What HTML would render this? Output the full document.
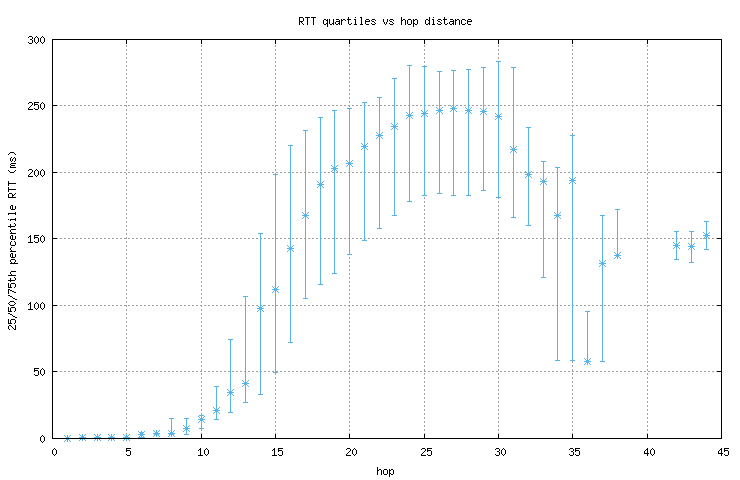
<!DOCTYPE html>
<html><head><meta charset="utf-8"><style>
html,body{margin:0;padding:0;background:#fff;width:740px;height:480px;overflow:hidden}
svg{display:block}
</style></head><body>
<svg width="740" height="480" viewBox="0 0 740 480" shape-rendering="crispEdges">
<defs><path id="st" fill="#56b4e9" d="M-3 -3h1v1h-1zM-2 -2h1v1h-1zM-1 -1h1v1h-1zM1 1h1v1h-1zM2 2h1v1h-1zM0 0h1v1h-1zM-3 3h1v1h-1zM-2 2h1v1h-1zM-1 1h1v1h-1zM1 -1h1v1h-1zM2 -2h1v1h-1zM3 -3h1v1h-1zM3 3h1v1h-1z"/></defs>
<rect width="740" height="480" fill="#fff"/>
<path d="M52 371.5H722 M52 305.5H722 M52 238.5H722 M52 172.5H722 M52 105.5H722 M126.5 439V39 M201.5 439V39 M275.5 439V39 M349.5 439V39 M424.5 439V39 M498.5 439V39 M572.5 439V39 M647.5 439V39" stroke="#a0a0a0" stroke-width="1" stroke-dasharray="2 2" fill="none"/>
<path d="M52 438.5h5M722 438.5h-5 M52 371.5h5M722 371.5h-5 M52 305.5h5M722 305.5h-5 M52 238.5h5M722 238.5h-5 M52 172.5h5M722 172.5h-5 M52 105.5h5M722 105.5h-5 M52 39.5h5M722 39.5h-5 M52.5 439v-5M52.5 39v5 M126.5 439v-5M126.5 39v5 M201.5 439v-5M201.5 39v5 M275.5 439v-5M275.5 39v5 M349.5 439v-5M349.5 39v5 M424.5 439v-5M424.5 39v5 M498.5 439v-5M498.5 39v5 M572.5 439v-5M572.5 39v5 M647.5 439v-5M647.5 39v5 M721.5 439v-5M721.5 39v5" stroke="#000" stroke-width="1" fill="none"/>
<use href="#st" x="67" y="438"/>
<use href="#st" x="82" y="437"/>
<use href="#st" x="97" y="437"/>
<use href="#st" x="111" y="437"/>
<use href="#st" x="126" y="437"/>
<use href="#st" x="141" y="434"/>
<use href="#st" x="156" y="433"/>
<use href="#st" x="171" y="433"/>
<use href="#st" x="186" y="428"/>
<use href="#st" x="201" y="419"/>
<use href="#st" x="216" y="410"/>
<use href="#st" x="230" y="392"/>
<use href="#st" x="245" y="383"/>
<use href="#st" x="260" y="308"/>
<use href="#st" x="275" y="289"/>
<use href="#st" x="290" y="248"/>
<use href="#st" x="305" y="215"/>
<use href="#st" x="320" y="184"/>
<use href="#st" x="334" y="168"/>
<use href="#st" x="349" y="163"/>
<use href="#st" x="364" y="146"/>
<use href="#st" x="379" y="135"/>
<use href="#st" x="394" y="126"/>
<use href="#st" x="409" y="115"/>
<use href="#st" x="424" y="113"/>
<use href="#st" x="439" y="110"/>
<use href="#st" x="453" y="108"/>
<use href="#st" x="468" y="110"/>
<use href="#st" x="483" y="111"/>
<use href="#st" x="498" y="116"/>
<use href="#st" x="513" y="149"/>
<use href="#st" x="528" y="174"/>
<use href="#st" x="543" y="181"/>
<use href="#st" x="557" y="215"/>
<use href="#st" x="572" y="180"/>
<use href="#st" x="587" y="361"/>
<use href="#st" x="602" y="263"/>
<use href="#st" x="617" y="255"/>
<use href="#st" x="676" y="245"/>
<use href="#st" x="691" y="246"/>
<use href="#st" x="706" y="235"/>
<path d="M67.5 438V439 M65 438.5h5M65 438.5h5 M64 438.5h7M67.5 435v7 M82.5 437V438 M80 437.5h5M80 437.5h5 M79 437.5h7M82.5 434v7 M97.5 437V438 M95 437.5h5M95 437.5h5 M94 437.5h7M97.5 434v7 M111.5 437V438 M109 437.5h5M109 437.5h5 M108 437.5h7M111.5 434v7 M126.5 437V438 M124 437.5h5M124 437.5h5 M123 437.5h7M126.5 434v7 M141.5 432V438 M139 432.5h5M139 437.5h5 M138 434.5h7M141.5 431v7 M156.5 433V435 M154 433.5h5M154 434.5h5 M153 433.5h7M156.5 430v7 M171.5 418V435 M169 418.5h5M169 434.5h5 M168 433.5h7M171.5 430v7 M186.5 418V435 M184 418.5h5M184 434.5h5 M183 428.5h7M186.5 425v7 M201.5 415V429 M199 415.5h5M199 428.5h5 M198 419.5h7M201.5 416v7 M216.5 386V420 M214 386.5h5M214 419.5h5 M213 410.5h7M216.5 407v7 M230.5 339V413 M228 339.5h5M228 412.5h5 M227 392.5h7M230.5 389v7 M245.5 296V403 M243 296.5h5M243 402.5h5 M242 383.5h7M245.5 380v7 M260.5 233V395 M258 233.5h5M258 394.5h5 M257 308.5h7M260.5 305v7 M275.5 174V373 M273 174.5h5M273 372.5h5 M272 289.5h7M275.5 286v7 M290.5 145V343 M288 145.5h5M288 342.5h5 M287 248.5h7M290.5 245v7 M305.5 130V299 M303 130.5h5M303 298.5h5 M302 215.5h7M305.5 212v7 M320.5 117V285 M318 117.5h5M318 284.5h5 M317 184.5h7M320.5 181v7 M334.5 110V274 M332 110.5h5M332 273.5h5 M331 168.5h7M334.5 165v7 M349.5 108V255 M347 108.5h5M347 254.5h5 M346 163.5h7M349.5 160v7 M364.5 102V241 M362 102.5h5M362 240.5h5 M361 146.5h7M364.5 143v7 M379.5 97V229 M377 97.5h5M377 228.5h5 M376 135.5h7M379.5 132v7 M394.5 78V216 M392 78.5h5M392 215.5h5 M391 126.5h7M394.5 123v7 M409.5 65V202 M407 65.5h5M407 201.5h5 M406 115.5h7M409.5 112v7 M424.5 66V196 M422 66.5h5M422 195.5h5 M421 113.5h7M424.5 110v7 M439.5 71V194 M437 71.5h5M437 193.5h5 M436 110.5h7M439.5 107v7 M453.5 70V196 M451 70.5h5M451 195.5h5 M450 108.5h7M453.5 105v7 M468.5 69V196 M466 69.5h5M466 195.5h5 M465 110.5h7M468.5 107v7 M483.5 67V191 M481 67.5h5M481 190.5h5 M480 111.5h7M483.5 108v7 M498.5 61V198 M496 61.5h5M496 197.5h5 M495 116.5h7M498.5 113v7 M513.5 67V218 M511 67.5h5M511 217.5h5 M510 149.5h7M513.5 146v7 M528.5 127V226 M526 127.5h5M526 225.5h5 M525 174.5h7M528.5 171v7 M543.5 161V278 M541 161.5h5M541 277.5h5 M540 181.5h7M543.5 178v7 M557.5 167V361 M555 167.5h5M555 360.5h5 M554 215.5h7M557.5 212v7 M572.5 135V361 M570 135.5h5M570 360.5h5 M569 180.5h7M572.5 177v7 M587.5 311V362 M585 311.5h5M585 361.5h5 M584 361.5h7M587.5 358v7 M602.5 215V362 M600 215.5h5M600 361.5h5 M599 263.5h7M602.5 260v7 M617.5 209V256 M615 209.5h5M615 255.5h5 M614 255.5h7M617.5 252v7 M676.5 231V260 M674 231.5h5M674 259.5h5 M673 245.5h7M676.5 242v7 M691.5 231V263 M689 231.5h5M689 262.5h5 M688 246.5h7M691.5 243v7 M706.5 221V250 M704 221.5h5M704 249.5h5 M703 235.5h7M706.5 232v7" stroke="#56b4e9" stroke-width="1" fill="none"/>
<path d="M52.5 39.5H721.5V438.5H52.5Z" stroke="#000" stroke-width="1" fill="none"/>
<path fill="#000" d="M42 435h1v1h-1zM41 436h1v1h-1zM43 436h1v1h-1zM40 437h1v1h-1zM44 437h1v1h-1zM40 438h1v1h-1zM44 438h1v1h-1zM40 439h1v1h-1zM44 439h1v1h-1zM40 440h1v1h-1zM44 440h1v1h-1zM41 441h1v1h-1zM43 441h1v1h-1zM42 442h1v1h-1zM34 368h5v1h-5zM34 369h1v1h-1zM34 370h4v1h-4zM34 371h1v1h-1zM38 371h1v1h-1zM38 372h1v1h-1zM38 373h1v1h-1zM34 374h1v1h-1zM38 374h1v1h-1zM35 375h3v1h-3zM42 368h1v1h-1zM41 369h1v1h-1zM43 369h1v1h-1zM40 370h1v1h-1zM44 370h1v1h-1zM40 371h1v1h-1zM44 371h1v1h-1zM40 372h1v1h-1zM44 372h1v1h-1zM40 373h1v1h-1zM44 373h1v1h-1zM41 374h1v1h-1zM43 374h1v1h-1zM42 375h1v1h-1zM30 302h1v1h-1zM29 303h2v1h-2zM28 304h1v1h-1zM30 304h1v1h-1zM30 305h1v1h-1zM30 306h1v1h-1zM30 307h1v1h-1zM30 308h1v1h-1zM28 309h5v1h-5zM36 302h1v1h-1zM35 303h1v1h-1zM37 303h1v1h-1zM34 304h1v1h-1zM38 304h1v1h-1zM34 305h1v1h-1zM38 305h1v1h-1zM34 306h1v1h-1zM38 306h1v1h-1zM34 307h1v1h-1zM38 307h1v1h-1zM35 308h1v1h-1zM37 308h1v1h-1zM36 309h1v1h-1zM42 302h1v1h-1zM41 303h1v1h-1zM43 303h1v1h-1zM40 304h1v1h-1zM44 304h1v1h-1zM40 305h1v1h-1zM44 305h1v1h-1zM40 306h1v1h-1zM44 306h1v1h-1zM40 307h1v1h-1zM44 307h1v1h-1zM41 308h1v1h-1zM43 308h1v1h-1zM42 309h1v1h-1zM30 235h1v1h-1zM29 236h2v1h-2zM28 237h1v1h-1zM30 237h1v1h-1zM30 238h1v1h-1zM30 239h1v1h-1zM30 240h1v1h-1zM30 241h1v1h-1zM28 242h5v1h-5zM34 235h5v1h-5zM34 236h1v1h-1zM34 237h4v1h-4zM34 238h1v1h-1zM38 238h1v1h-1zM38 239h1v1h-1zM38 240h1v1h-1zM34 241h1v1h-1zM38 241h1v1h-1zM35 242h3v1h-3zM42 235h1v1h-1zM41 236h1v1h-1zM43 236h1v1h-1zM40 237h1v1h-1zM44 237h1v1h-1zM40 238h1v1h-1zM44 238h1v1h-1zM40 239h1v1h-1zM44 239h1v1h-1zM40 240h1v1h-1zM44 240h1v1h-1zM41 241h1v1h-1zM43 241h1v1h-1zM42 242h1v1h-1zM29 169h3v1h-3zM28 170h1v1h-1zM32 170h1v1h-1zM32 171h1v1h-1zM31 172h1v1h-1zM30 173h1v1h-1zM29 174h1v1h-1zM28 175h1v1h-1zM28 176h5v1h-5zM36 169h1v1h-1zM35 170h1v1h-1zM37 170h1v1h-1zM34 171h1v1h-1zM38 171h1v1h-1zM34 172h1v1h-1zM38 172h1v1h-1zM34 173h1v1h-1zM38 173h1v1h-1zM34 174h1v1h-1zM38 174h1v1h-1zM35 175h1v1h-1zM37 175h1v1h-1zM36 176h1v1h-1zM42 169h1v1h-1zM41 170h1v1h-1zM43 170h1v1h-1zM40 171h1v1h-1zM44 171h1v1h-1zM40 172h1v1h-1zM44 172h1v1h-1zM40 173h1v1h-1zM44 173h1v1h-1zM40 174h1v1h-1zM44 174h1v1h-1zM41 175h1v1h-1zM43 175h1v1h-1zM42 176h1v1h-1zM29 102h3v1h-3zM28 103h1v1h-1zM32 103h1v1h-1zM32 104h1v1h-1zM31 105h1v1h-1zM30 106h1v1h-1zM29 107h1v1h-1zM28 108h1v1h-1zM28 109h5v1h-5zM34 102h5v1h-5zM34 103h1v1h-1zM34 104h4v1h-4zM34 105h1v1h-1zM38 105h1v1h-1zM38 106h1v1h-1zM38 107h1v1h-1zM34 108h1v1h-1zM38 108h1v1h-1zM35 109h3v1h-3zM42 102h1v1h-1zM41 103h1v1h-1zM43 103h1v1h-1zM40 104h1v1h-1zM44 104h1v1h-1zM40 105h1v1h-1zM44 105h1v1h-1zM40 106h1v1h-1zM44 106h1v1h-1zM40 107h1v1h-1zM44 107h1v1h-1zM41 108h1v1h-1zM43 108h1v1h-1zM42 109h1v1h-1zM29 36h3v1h-3zM28 37h1v1h-1zM32 37h1v1h-1zM32 38h1v1h-1zM30 39h2v1h-2zM32 40h1v1h-1zM32 41h1v1h-1zM28 42h1v1h-1zM32 42h1v1h-1zM29 43h3v1h-3zM36 36h1v1h-1zM35 37h1v1h-1zM37 37h1v1h-1zM34 38h1v1h-1zM38 38h1v1h-1zM34 39h1v1h-1zM38 39h1v1h-1zM34 40h1v1h-1zM38 40h1v1h-1zM34 41h1v1h-1zM38 41h1v1h-1zM35 42h1v1h-1zM37 42h1v1h-1zM36 43h1v1h-1zM42 36h1v1h-1zM41 37h1v1h-1zM43 37h1v1h-1zM40 38h1v1h-1zM44 38h1v1h-1zM40 39h1v1h-1zM44 39h1v1h-1zM40 40h1v1h-1zM44 40h1v1h-1zM40 41h1v1h-1zM44 41h1v1h-1zM41 42h1v1h-1zM43 42h1v1h-1zM42 43h1v1h-1zM54 448h1v1h-1zM53 449h1v1h-1zM55 449h1v1h-1zM52 450h1v1h-1zM56 450h1v1h-1zM52 451h1v1h-1zM56 451h1v1h-1zM52 452h1v1h-1zM56 452h1v1h-1zM52 453h1v1h-1zM56 453h1v1h-1zM53 454h1v1h-1zM55 454h1v1h-1zM54 455h1v1h-1zM126 448h5v1h-5zM126 449h1v1h-1zM126 450h4v1h-4zM126 451h1v1h-1zM130 451h1v1h-1zM130 452h1v1h-1zM130 453h1v1h-1zM126 454h1v1h-1zM130 454h1v1h-1zM127 455h3v1h-3zM200 448h1v1h-1zM199 449h2v1h-2zM198 450h1v1h-1zM200 450h1v1h-1zM200 451h1v1h-1zM200 452h1v1h-1zM200 453h1v1h-1zM200 454h1v1h-1zM198 455h5v1h-5zM206 448h1v1h-1zM205 449h1v1h-1zM207 449h1v1h-1zM204 450h1v1h-1zM208 450h1v1h-1zM204 451h1v1h-1zM208 451h1v1h-1zM204 452h1v1h-1zM208 452h1v1h-1zM204 453h1v1h-1zM208 453h1v1h-1zM205 454h1v1h-1zM207 454h1v1h-1zM206 455h1v1h-1zM274 448h1v1h-1zM273 449h2v1h-2zM272 450h1v1h-1zM274 450h1v1h-1zM274 451h1v1h-1zM274 452h1v1h-1zM274 453h1v1h-1zM274 454h1v1h-1zM272 455h5v1h-5zM278 448h5v1h-5zM278 449h1v1h-1zM278 450h4v1h-4zM278 451h1v1h-1zM282 451h1v1h-1zM282 452h1v1h-1zM282 453h1v1h-1zM278 454h1v1h-1zM282 454h1v1h-1zM279 455h3v1h-3zM347 448h3v1h-3zM346 449h1v1h-1zM350 449h1v1h-1zM350 450h1v1h-1zM349 451h1v1h-1zM348 452h1v1h-1zM347 453h1v1h-1zM346 454h1v1h-1zM346 455h5v1h-5zM354 448h1v1h-1zM353 449h1v1h-1zM355 449h1v1h-1zM352 450h1v1h-1zM356 450h1v1h-1zM352 451h1v1h-1zM356 451h1v1h-1zM352 452h1v1h-1zM356 452h1v1h-1zM352 453h1v1h-1zM356 453h1v1h-1zM353 454h1v1h-1zM355 454h1v1h-1zM354 455h1v1h-1zM422 448h3v1h-3zM421 449h1v1h-1zM425 449h1v1h-1zM425 450h1v1h-1zM424 451h1v1h-1zM423 452h1v1h-1zM422 453h1v1h-1zM421 454h1v1h-1zM421 455h5v1h-5zM427 448h5v1h-5zM427 449h1v1h-1zM427 450h4v1h-4zM427 451h1v1h-1zM431 451h1v1h-1zM431 452h1v1h-1zM431 453h1v1h-1zM427 454h1v1h-1zM431 454h1v1h-1zM428 455h3v1h-3zM496 448h3v1h-3zM495 449h1v1h-1zM499 449h1v1h-1zM499 450h1v1h-1zM497 451h2v1h-2zM499 452h1v1h-1zM499 453h1v1h-1zM495 454h1v1h-1zM499 454h1v1h-1zM496 455h3v1h-3zM503 448h1v1h-1zM502 449h1v1h-1zM504 449h1v1h-1zM501 450h1v1h-1zM505 450h1v1h-1zM501 451h1v1h-1zM505 451h1v1h-1zM501 452h1v1h-1zM505 452h1v1h-1zM501 453h1v1h-1zM505 453h1v1h-1zM502 454h1v1h-1zM504 454h1v1h-1zM503 455h1v1h-1zM570 448h3v1h-3zM569 449h1v1h-1zM573 449h1v1h-1zM573 450h1v1h-1zM571 451h2v1h-2zM573 452h1v1h-1zM573 453h1v1h-1zM569 454h1v1h-1zM573 454h1v1h-1zM570 455h3v1h-3zM575 448h5v1h-5zM575 449h1v1h-1zM575 450h4v1h-4zM575 451h1v1h-1zM579 451h1v1h-1zM579 452h1v1h-1zM579 453h1v1h-1zM575 454h1v1h-1zM579 454h1v1h-1zM576 455h3v1h-3zM647 448h1v1h-1zM646 449h2v1h-2zM645 450h1v1h-1zM647 450h1v1h-1zM644 451h1v1h-1zM647 451h1v1h-1zM644 452h1v1h-1zM647 452h1v1h-1zM644 453h5v1h-5zM647 454h1v1h-1zM647 455h1v1h-1zM652 448h1v1h-1zM651 449h1v1h-1zM653 449h1v1h-1zM650 450h1v1h-1zM654 450h1v1h-1zM650 451h1v1h-1zM654 451h1v1h-1zM650 452h1v1h-1zM654 452h1v1h-1zM650 453h1v1h-1zM654 453h1v1h-1zM651 454h1v1h-1zM653 454h1v1h-1zM652 455h1v1h-1zM721 448h1v1h-1zM720 449h2v1h-2zM719 450h1v1h-1zM721 450h1v1h-1zM718 451h1v1h-1zM721 451h1v1h-1zM718 452h1v1h-1zM721 452h1v1h-1zM718 453h5v1h-5zM721 454h1v1h-1zM721 455h1v1h-1zM724 448h5v1h-5zM724 449h1v1h-1zM724 450h4v1h-4zM724 451h1v1h-1zM728 451h1v1h-1zM728 452h1v1h-1zM728 453h1v1h-1zM724 454h1v1h-1zM728 454h1v1h-1zM725 455h3v1h-3zM299 17h4v1h-4zM299 18h1v1h-1zM303 18h1v1h-1zM299 19h1v1h-1zM303 19h1v1h-1zM299 20h1v1h-1zM303 20h1v1h-1zM299 21h4v1h-4zM299 22h1v1h-1zM301 22h1v1h-1zM299 23h1v1h-1zM302 23h1v1h-1zM299 24h1v1h-1zM303 24h1v1h-1zM305 17h5v1h-5zM307 18h1v1h-1zM307 19h1v1h-1zM307 20h1v1h-1zM307 21h1v1h-1zM307 22h1v1h-1zM307 23h1v1h-1zM307 24h1v1h-1zM311 17h5v1h-5zM313 18h1v1h-1zM313 19h1v1h-1zM313 20h1v1h-1zM313 21h1v1h-1zM313 22h1v1h-1zM313 23h1v1h-1zM313 24h1v1h-1zM324 19h2v1h-2zM327 19h1v1h-1zM323 20h1v1h-1zM326 20h2v1h-2zM323 21h1v1h-1zM327 21h1v1h-1zM323 22h1v1h-1zM327 22h1v1h-1zM323 23h1v1h-1zM326 23h2v1h-2zM324 24h2v1h-2zM327 24h1v1h-1zM327 25h1v1h-1zM327 26h1v1h-1zM329 19h1v1h-1zM333 19h1v1h-1zM329 20h1v1h-1zM333 20h1v1h-1zM329 21h1v1h-1zM333 21h1v1h-1zM329 22h1v1h-1zM333 22h1v1h-1zM329 23h1v1h-1zM332 23h2v1h-2zM330 24h2v1h-2zM333 24h1v1h-1zM336 19h3v1h-3zM339 20h1v1h-1zM336 21h4v1h-4zM335 22h1v1h-1zM339 22h1v1h-1zM335 23h1v1h-1zM338 23h2v1h-2zM336 24h2v1h-2zM339 24h1v1h-1zM341 19h1v1h-1zM343 19h2v1h-2zM341 20h2v1h-2zM345 20h1v1h-1zM341 21h1v1h-1zM341 22h1v1h-1zM341 23h1v1h-1zM341 24h1v1h-1zM348 17h1v1h-1zM348 18h1v1h-1zM347 19h4v1h-4zM348 20h1v1h-1zM348 21h1v1h-1zM348 22h1v1h-1zM348 23h1v1h-1zM351 23h1v1h-1zM349 24h2v1h-2zM355 17h1v1h-1zM354 19h2v1h-2zM355 20h1v1h-1zM355 21h1v1h-1zM355 22h1v1h-1zM355 23h1v1h-1zM354 24h3v1h-3zM360 17h2v1h-2zM361 18h1v1h-1zM361 19h1v1h-1zM361 20h1v1h-1zM361 21h1v1h-1zM361 22h1v1h-1zM361 23h1v1h-1zM360 24h3v1h-3zM366 19h3v1h-3zM365 20h1v1h-1zM369 20h1v1h-1zM365 21h5v1h-5zM365 22h1v1h-1zM365 23h1v1h-1zM366 24h3v1h-3zM372 19h3v1h-3zM371 20h1v1h-1zM375 20h1v1h-1zM372 21h2v1h-2zM374 22h1v1h-1zM371 23h1v1h-1zM375 23h1v1h-1zM372 24h3v1h-3zM383 19h1v1h-1zM387 19h1v1h-1zM383 20h1v1h-1zM387 20h1v1h-1zM383 21h1v1h-1zM387 21h1v1h-1zM384 22h1v1h-1zM386 22h1v1h-1zM384 23h1v1h-1zM386 23h1v1h-1zM385 24h1v1h-1zM390 19h3v1h-3zM389 20h1v1h-1zM393 20h1v1h-1zM390 21h2v1h-2zM392 22h1v1h-1zM389 23h1v1h-1zM393 23h1v1h-1zM390 24h3v1h-3zM401 17h1v1h-1zM401 18h1v1h-1zM401 19h1v1h-1zM403 19h2v1h-2zM401 20h2v1h-2zM405 20h1v1h-1zM401 21h1v1h-1zM405 21h1v1h-1zM401 22h1v1h-1zM405 22h1v1h-1zM401 23h1v1h-1zM405 23h1v1h-1zM401 24h1v1h-1zM405 24h1v1h-1zM408 19h3v1h-3zM407 20h1v1h-1zM411 20h1v1h-1zM407 21h1v1h-1zM411 21h1v1h-1zM407 22h1v1h-1zM411 22h1v1h-1zM407 23h1v1h-1zM411 23h1v1h-1zM408 24h3v1h-3zM413 19h1v1h-1zM415 19h2v1h-2zM413 20h2v1h-2zM417 20h1v1h-1zM413 21h1v1h-1zM417 21h1v1h-1zM413 22h1v1h-1zM417 22h1v1h-1zM413 23h2v1h-2zM417 23h1v1h-1zM413 24h1v1h-1zM415 24h2v1h-2zM413 25h1v1h-1zM413 26h1v1h-1zM429 17h1v1h-1zM429 18h1v1h-1zM426 19h2v1h-2zM429 19h1v1h-1zM425 20h1v1h-1zM428 20h2v1h-2zM425 21h1v1h-1zM429 21h1v1h-1zM425 22h1v1h-1zM429 22h1v1h-1zM425 23h1v1h-1zM428 23h2v1h-2zM426 24h2v1h-2zM429 24h1v1h-1zM433 17h1v1h-1zM432 19h2v1h-2zM433 20h1v1h-1zM433 21h1v1h-1zM433 22h1v1h-1zM433 23h1v1h-1zM432 24h3v1h-3zM438 19h3v1h-3zM437 20h1v1h-1zM441 20h1v1h-1zM438 21h2v1h-2zM440 22h1v1h-1zM437 23h1v1h-1zM441 23h1v1h-1zM438 24h3v1h-3zM444 17h1v1h-1zM444 18h1v1h-1zM443 19h4v1h-4zM444 20h1v1h-1zM444 21h1v1h-1zM444 22h1v1h-1zM444 23h1v1h-1zM447 23h1v1h-1zM445 24h2v1h-2zM450 19h3v1h-3zM453 20h1v1h-1zM450 21h4v1h-4zM449 22h1v1h-1zM453 22h1v1h-1zM449 23h1v1h-1zM452 23h2v1h-2zM450 24h2v1h-2zM453 24h1v1h-1zM455 19h1v1h-1zM457 19h2v1h-2zM455 20h2v1h-2zM459 20h1v1h-1zM455 21h1v1h-1zM459 21h1v1h-1zM455 22h1v1h-1zM459 22h1v1h-1zM455 23h1v1h-1zM459 23h1v1h-1zM455 24h1v1h-1zM459 24h1v1h-1zM462 19h3v1h-3zM461 20h1v1h-1zM465 20h1v1h-1zM461 21h1v1h-1zM461 22h1v1h-1zM461 23h1v1h-1zM465 23h1v1h-1zM462 24h3v1h-3zM468 19h3v1h-3zM467 20h1v1h-1zM471 20h1v1h-1zM467 21h5v1h-5zM467 22h1v1h-1zM467 23h1v1h-1zM468 24h3v1h-3zM377 467h1v1h-1zM377 468h1v1h-1zM377 469h1v1h-1zM379 469h2v1h-2zM377 470h2v1h-2zM381 470h1v1h-1zM377 471h1v1h-1zM381 471h1v1h-1zM377 472h1v1h-1zM381 472h1v1h-1zM377 473h1v1h-1zM381 473h1v1h-1zM377 474h1v1h-1zM381 474h1v1h-1zM384 469h3v1h-3zM383 470h1v1h-1zM387 470h1v1h-1zM383 471h1v1h-1zM387 471h1v1h-1zM383 472h1v1h-1zM387 472h1v1h-1zM383 473h1v1h-1zM387 473h1v1h-1zM384 474h3v1h-3zM389 469h1v1h-1zM391 469h2v1h-2zM389 470h2v1h-2zM393 470h1v1h-1zM389 471h1v1h-1zM393 471h1v1h-1zM389 472h1v1h-1zM393 472h1v1h-1zM389 473h2v1h-2zM393 473h1v1h-1zM389 474h1v1h-1zM391 474h2v1h-2zM389 475h1v1h-1zM389 476h1v1h-1zM8 326h1v3h-1zM9 329h1v1h-1zM9 325h1v1h-1zM10 325h1v1h-1zM11 326h1v1h-1zM12 327h1v1h-1zM13 328h1v1h-1zM14 329h1v1h-1zM15 325h1v5h-1zM8 319h1v5h-1zM9 323h1v1h-1zM10 320h1v4h-1zM11 323h1v1h-1zM11 319h1v1h-1zM12 319h1v1h-1zM13 319h1v1h-1zM14 323h1v1h-1zM14 319h1v1h-1zM15 320h1v3h-1zM8 313h1v1h-1zM9 313h1v1h-1zM10 314h1v1h-1zM11 314h1v1h-1zM12 315h1v1h-1zM13 316h1v1h-1zM14 316h1v1h-1zM15 317h1v1h-1zM16 317h1v1h-1zM8 307h1v5h-1zM9 311h1v1h-1zM10 308h1v4h-1zM11 311h1v1h-1zM11 307h1v1h-1zM12 307h1v1h-1zM13 307h1v1h-1zM14 311h1v1h-1zM14 307h1v1h-1zM15 308h1v3h-1zM8 303h1v1h-1zM9 304h1v1h-1zM9 302h1v1h-1zM10 305h1v1h-1zM10 301h1v1h-1zM11 305h1v1h-1zM11 301h1v1h-1zM12 305h1v1h-1zM12 301h1v1h-1zM13 305h1v1h-1zM13 301h1v1h-1zM14 304h1v1h-1zM14 302h1v1h-1zM15 303h1v1h-1zM8 295h1v1h-1zM9 295h1v1h-1zM10 296h1v1h-1zM11 296h1v1h-1zM12 297h1v1h-1zM13 298h1v1h-1zM14 298h1v1h-1zM15 299h1v1h-1zM16 299h1v1h-1zM8 289h1v5h-1zM9 289h1v1h-1zM10 290h1v1h-1zM11 290h1v1h-1zM12 291h1v1h-1zM13 291h1v1h-1zM14 292h1v1h-1zM15 292h1v1h-1zM8 283h1v5h-1zM9 287h1v1h-1zM10 284h1v4h-1zM11 287h1v1h-1zM11 283h1v1h-1zM12 283h1v1h-1zM13 283h1v1h-1zM14 287h1v1h-1zM14 283h1v1h-1zM15 284h1v3h-1zM8 280h1v1h-1zM9 280h1v1h-1zM10 278h1v4h-1zM11 280h1v1h-1zM12 280h1v1h-1zM13 280h1v1h-1zM14 280h1v1h-1zM14 277h1v1h-1zM15 278h1v2h-1zM8 275h1v1h-1zM9 275h1v1h-1zM10 275h1v1h-1zM10 272h1v2h-1zM11 274h1v2h-1zM11 271h1v1h-1zM12 275h1v1h-1zM12 271h1v1h-1zM13 275h1v1h-1zM13 271h1v1h-1zM14 275h1v1h-1zM14 271h1v1h-1zM15 275h1v1h-1zM15 271h1v1h-1zM10 263h1v1h-1zM10 260h1v2h-1zM11 262h1v2h-1zM11 259h1v1h-1zM12 263h1v1h-1zM12 259h1v1h-1zM13 263h1v1h-1zM13 259h1v1h-1zM14 262h1v2h-1zM14 259h1v1h-1zM15 263h1v1h-1zM15 260h1v2h-1zM16 263h1v1h-1zM17 263h1v1h-1zM10 254h1v3h-1zM11 257h1v1h-1zM11 253h1v1h-1zM12 253h1v5h-1zM13 257h1v1h-1zM14 257h1v1h-1zM15 254h1v3h-1zM10 251h1v1h-1zM10 248h1v2h-1zM11 250h1v2h-1zM11 247h1v1h-1zM12 251h1v1h-1zM13 251h1v1h-1zM14 251h1v1h-1zM15 251h1v1h-1zM10 242h1v3h-1zM11 245h1v1h-1zM11 241h1v1h-1zM12 245h1v1h-1zM13 245h1v1h-1zM14 245h1v1h-1zM14 241h1v1h-1zM15 242h1v3h-1zM10 236h1v3h-1zM11 239h1v1h-1zM11 235h1v1h-1zM12 235h1v5h-1zM13 239h1v1h-1zM14 239h1v1h-1zM15 236h1v3h-1zM10 233h1v1h-1zM10 230h1v2h-1zM11 232h1v2h-1zM11 229h1v1h-1zM12 233h1v1h-1zM12 229h1v1h-1zM13 233h1v1h-1zM13 229h1v1h-1zM14 233h1v1h-1zM14 229h1v1h-1zM15 233h1v1h-1zM15 229h1v1h-1zM8 226h1v1h-1zM9 226h1v1h-1zM10 224h1v4h-1zM11 226h1v1h-1zM12 226h1v1h-1zM13 226h1v1h-1zM14 226h1v1h-1zM14 223h1v1h-1zM15 224h1v2h-1zM8 219h1v1h-1zM10 219h1v2h-1zM11 219h1v1h-1zM12 219h1v1h-1zM13 219h1v1h-1zM14 219h1v1h-1zM15 218h1v3h-1zM8 213h1v2h-1zM9 213h1v1h-1zM10 213h1v1h-1zM11 213h1v1h-1zM12 213h1v1h-1zM13 213h1v1h-1zM14 213h1v1h-1zM15 212h1v3h-1zM10 206h1v3h-1zM11 209h1v1h-1zM11 205h1v1h-1zM12 205h1v5h-1zM13 209h1v1h-1zM14 209h1v1h-1zM15 206h1v3h-1zM8 194h1v4h-1zM9 197h1v1h-1zM9 193h1v1h-1zM10 197h1v1h-1zM10 193h1v1h-1zM11 197h1v1h-1zM11 193h1v1h-1zM12 194h1v4h-1zM13 197h1v1h-1zM13 195h1v1h-1zM14 197h1v1h-1zM14 194h1v1h-1zM15 197h1v1h-1zM15 193h1v1h-1zM8 187h1v5h-1zM9 189h1v1h-1zM10 189h1v1h-1zM11 189h1v1h-1zM12 189h1v1h-1zM13 189h1v1h-1zM14 189h1v1h-1zM15 189h1v1h-1zM8 181h1v5h-1zM9 183h1v1h-1zM10 183h1v1h-1zM11 183h1v1h-1zM12 183h1v1h-1zM13 183h1v1h-1zM14 183h1v1h-1zM15 183h1v1h-1zM8 170h1v1h-1zM9 171h1v1h-1zM10 172h1v1h-1zM11 172h1v1h-1zM12 172h1v1h-1zM13 172h1v1h-1zM14 171h1v1h-1zM15 170h1v1h-1zM10 166h1v2h-1zM10 164h1v1h-1zM11 167h1v1h-1zM11 165h1v1h-1zM11 163h1v1h-1zM12 167h1v1h-1zM12 165h1v1h-1zM12 163h1v1h-1zM13 167h1v1h-1zM13 165h1v1h-1zM13 163h1v1h-1zM14 167h1v1h-1zM14 165h1v1h-1zM14 163h1v1h-1zM15 167h1v1h-1zM15 163h1v1h-1zM10 158h1v3h-1zM11 161h1v1h-1zM11 157h1v1h-1zM12 159h1v2h-1zM13 158h1v1h-1zM14 161h1v1h-1zM14 157h1v1h-1zM15 158h1v3h-1zM8 154h1v1h-1zM9 153h1v1h-1zM10 152h1v1h-1zM11 152h1v1h-1zM12 152h1v1h-1zM13 152h1v1h-1zM14 153h1v1h-1zM15 154h1v1h-1z"/>
</svg>
</body></html>
